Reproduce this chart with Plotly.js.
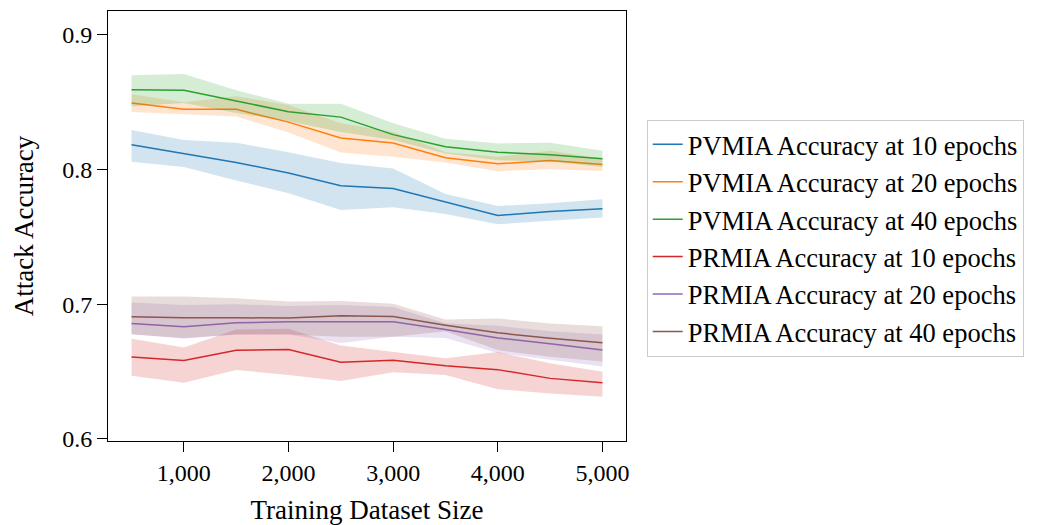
<!DOCTYPE html>
<html>
<head>
<meta charset="utf-8">
<script src="https://cdn.plot.ly/plotly-3.0.1.min.js"></script>
<style>html,body{margin:0;padding:0;background:#fff;}#chart{width:1047px;height:525px;}</style>
</head>
<body>
<div id="chart"></div>
<script>
const trainSize = [500, 1000, 1500, 2000, 2500, 3000, 3500, 4000, 4500, 5000];

const pv10   = [0.8185, 0.812, 0.8053, 0.7975, 0.788, 0.786, 0.776, 0.766, 0.769, 0.771];
const pv10Lo = [0.8058, 0.802, 0.792, 0.7825, 0.770, 0.772, 0.767, 0.7595, 0.762, 0.7645];
const pv10Hi = [0.8295, 0.822, 0.820, 0.813, 0.805, 0.8008, 0.782, 0.773, 0.775, 0.778];

const pv20   = [0.8495, 0.8448, 0.8448, 0.8353, 0.8235, 0.8198, 0.8088, 0.8043, 0.8068, 0.8038];
const pv20Lo = [0.8428, 0.841, 0.8395, 0.8275, 0.8128, 0.8095, 0.8053, 0.7988, 0.8003, 0.799];
const pv20Hi = [0.856, 0.85, 0.8545, 0.848, 0.8345, 0.828, 0.813, 0.8095, 0.814, 0.808];

const pv40   = [0.8593, 0.859, 0.851, 0.843, 0.839, 0.826, 0.817, 0.813, 0.811, 0.808];
const pv40Lo = [0.847, 0.8495, 0.842, 0.836, 0.828, 0.822, 0.812, 0.807, 0.806, 0.802];
const pv40Hi = [0.870, 0.871, 0.859, 0.849, 0.849, 0.8345, 0.823, 0.8195, 0.820, 0.814];

const pr10   = [0.6608, 0.6583, 0.6658, 0.6665, 0.657, 0.6585, 0.6543, 0.6515, 0.645, 0.6418];
const pr10Lo = [0.647, 0.6418, 0.6513, 0.6475, 0.643, 0.6495, 0.6475, 0.637, 0.6338, 0.6313];
const pr10Hi = [0.6745, 0.668, 0.6813, 0.6818, 0.6695, 0.665, 0.66, 0.6645, 0.6563, 0.65];

const pr20   = [0.6858, 0.6833, 0.6863, 0.687, 0.687, 0.687, 0.6813, 0.675, 0.6708, 0.666];
const pr20Lo = [0.678, 0.6745, 0.6775, 0.6775, 0.6713, 0.676, 0.675, 0.6638, 0.6588, 0.6538];
const pr20Hi = [0.7013, 0.6995, 0.70, 0.6988, 0.6995, 0.698, 0.686, 0.684, 0.68, 0.6775];

const pr40   = [0.6908, 0.690, 0.690, 0.6898, 0.6915, 0.691, 0.6845, 0.6788, 0.6748, 0.6715];
const pr40Lo = [0.6775, 0.675, 0.6775, 0.6775, 0.676, 0.676, 0.68, 0.666, 0.661, 0.6575];
const pr40Hi = [0.7058, 0.7058, 0.7045, 0.702, 0.7025, 0.7005, 0.6888, 0.6895, 0.6858, 0.6838];

const seriesNames = [
  "PVMIA Accuracy at 10 epochs",
  "PVMIA Accuracy at 20 epochs",
  "PVMIA Accuracy at 40 epochs",
  "PRMIA Accuracy at 10 epochs",
  "PRMIA Accuracy at 20 epochs",
  "PRMIA Accuracy at 40 epochs"
];
const xTicks = [1000, 2000, 3000, 4000, 5000];
const yTicks = [0.6, 0.7, 0.8, 0.9];

const colors = ["#1f77b4", "#ff7f0e", "#2ca02c", "#d62728", "#9467bd", "#8c564b"];
const bandColors = [
  "rgba(31,119,180,0.2)", "rgba(255,127,14,0.2)", "rgba(44,160,44,0.2)",
  "rgba(214,39,40,0.2)", "rgba(148,103,189,0.2)", "rgba(140,86,75,0.2)"
];

const series = [
  [pv10, pv10Lo, pv10Hi],
  [pv20, pv20Lo, pv20Hi],
  [pv40, pv40Lo, pv40Hi],
  [pr10, pr10Lo, pr10Hi],
  [pr20, pr20Lo, pr20Hi],
  [pr40, pr40Lo, pr40Hi]
];

const traces = [];
series.forEach((s, i) => {
  traces.push({x: trainSize, y: s[1], type: "scatter", mode: "lines",
    line: {width: 0, color: bandColors[i]}, showlegend: false, hoverinfo: "skip"});
  traces.push({x: trainSize, y: s[2], type: "scatter", mode: "lines", fill: "tonexty",
    fillcolor: bandColors[i], line: {width: 0, color: bandColors[i]}, showlegend: false, hoverinfo: "skip"});
  traces.push({x: trainSize, y: s[0], type: "scatter", mode: "lines", name: seriesNames[i],
    line: {width: 1.5, color: colors[i]}});
});

const font = "Liberation Serif, Times New Roman, serif";
const layout = {
  width: 1047, height: 525,
  margin: {l: 108, r: 421, t: 11, b: 84},
  paper_bgcolor: "#fff", plot_bgcolor: "#fff",
  font: {family: font, size: 24, color: "#000"},
  showlegend: true,
  legend: {
    traceorder: "normal",
    x: 1.04, xanchor: "left", y: 0.472, yanchor: "middle",
    bgcolor: "#fff", bordercolor: "#cccccc", borderwidth: 1,
    font: {family: font, size: 26.5, color: "#000"}
  },
  xaxis: {
    range: [275, 5225], tickvals: xTicks, tickformat: ",d",
    showgrid: false, zeroline: false, showline: true, linecolor: "#000", linewidth: 1, mirror: true,
    ticks: "outside", ticklen: 10, tickcolor: "#000", tickwidth: 1,
    tickfont: {family: font, size: 24, color: "#000"},
    title: {text: "Training Dataset Size", font: {family: font, size: 27, color: "#000"}, standoff: 15}
  },
  yaxis: {
    range: [0.5985, 0.9178], tickvals: yTicks, tickformat: ".1f",
    showgrid: false, zeroline: false, showline: true, linecolor: "#000", linewidth: 1, mirror: true,
    ticks: "outside", ticklen: 10, tickcolor: "#000", tickwidth: 1,
    tickfont: {family: font, size: 24, color: "#000"},
    title: {text: "Attack Accuracy", font: {family: font, size: 27, color: "#000"}, standoff: 20}
  }
};

Plotly.newPlot("chart", traces, layout, {staticPlot: true, displayModeBar: false});
</script>
</body>
</html>
